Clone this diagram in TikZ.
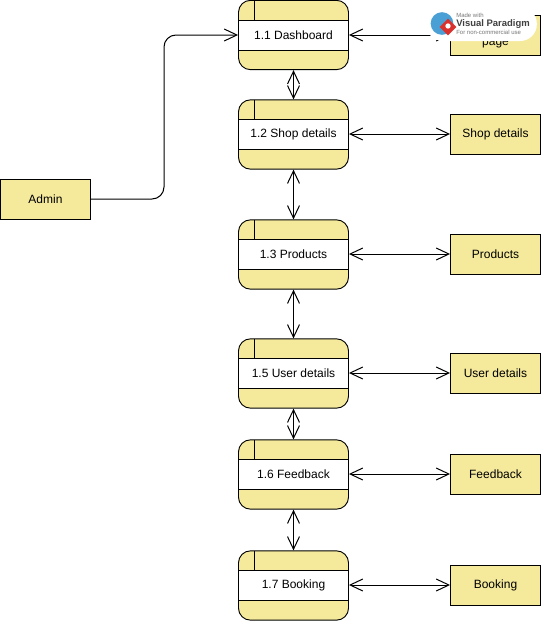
\documentclass[tikz,border=0pt]{standalone}
\usepackage{xcolor}
\usepackage{fontspec}
\setmainfont{Liberation Sans}
\usetikzlibrary{arrows.meta}
\definecolor{DFDYellow}{HTML}{F5E99B}
\definecolor{DFDLine}{HTML}{000000}
\definecolor{VPGrey}{HTML}{777777}
\definecolor{VPBlue}{HTML}{4A9FD4}
\definecolor{VPRed}{HTML}{D9322E}
\tikzset{
  procbox/.style={draw=DFDLine,fill=DFDYellow,line width=0.7pt,rounded corners=9pt,minimum width=82.5pt,minimum height=52pt,inner sep=0pt},
  procband/.style={draw=DFDLine,fill=white,line width=0.7pt,minimum width=82.5pt,minimum height=22.5pt,inner sep=0pt,font=\fontsize{9}{11}\selectfont},
  extbox/.style={draw=DFDLine,fill=DFDYellow,line width=0.7pt,minimum width=67.5pt,minimum height=30pt,inner sep=0pt,font=\fontsize{9}{11}\selectfont},
  flowline/.style={draw=DFDLine,line width=0.75pt,{Straight Barb[length=9.5pt,width=9pt]}-{Straight Barb[length=9.5pt,width=9pt]}},
  oneway/.style={draw=DFDLine,line width=0.75pt,rounded corners=9pt,-{Straight Barb[length=9.5pt,width=9pt]}},
}
\begin{document}
\begin{tikzpicture}[x=0.75pt,y=-0.75pt]
\path[use as bounding box] (0,0) rectangle (542,621);
% external entities
\node[extbox] (admin) at (45.5,199) {Admin};
\node[extbox,align=center] (dashpage) at (495.5,35) {\phantom{Page}\\page};
\node[extbox] (shopext) at (495.5,134) {Shop details};
\node[extbox] (prodext) at (495.5,254) {Products};
\node[extbox] (userext) at (495.5,373) {User details};
\node[extbox] (feedext) at (495.5,474) {Feedback};
\node[extbox] (bookext) at (495.5,585) {Booking};
% processes
\node[procbox] (dash) at (293.5,35) {};
\node[procband] (dashband) at (293.5,35) {1.1 Dashboard};
\draw[line width=0.7pt] (254,0.5) -- (254,20);
\node[procbox] (shop) at (293.5,134.5) {};
\node[procband] (shopband) at (293.5,134) {1.2 Shop details};
\draw[line width=0.7pt] (254,99.5) -- (254,119);
\node[procbox] (prod) at (293.5,254.5) {};
\node[procband] (prodband) at (293.5,254) {1.3 Products};
\draw[line width=0.7pt] (254,220) -- (254,239);
\node[procbox] (user) at (293.5,373.5) {};
\node[procband] (userband) at (293.5,373) {1.5 User details};
\draw[line width=0.7pt] (254,339) -- (254,358);
\node[procbox] (feed) at (293.5,474.5) {};
\node[procband] (feedband) at (293.5,474) {1.6 Feedback};
\draw[line width=0.7pt] (254,440) -- (254,459);
\node[procbox] (book) at (293.5,585.5) {};
\node[procband] (bookband) at (293.5,585) {1.7 Booking};
\draw[line width=0.7pt] (254,551) -- (254,570);
% flows
\draw[oneway] (admin.east) -- (164,199) -- (164,35) -- (dash.west);
\draw[flowline] (dash.east) -- (dashpage.west);
\draw[flowline] (shop.east |- shopext.west) -- (shopext.west);
\draw[flowline] (prod.east |- prodext.west) -- (prodext.west);
\draw[flowline] (user.east |- userext.west) -- (userext.west);
\draw[flowline] (feed.east |- feedext.west) -- (feedext.west);
\draw[flowline] (book.east |- bookext.west) -- (bookext.west);
\draw[flowline] (dash.south) -- (shop.north);
\draw[flowline] (shop.south) -- (prod.north);
\draw[flowline] (prod.south) -- (user.north);
\draw[flowline] (user.south) -- (feed.north);
\draw[flowline] (feed.south) -- (book.north);
% badge
\node[fill=white,rounded corners=12.5pt,minimum width=83pt,minimum height=25.5pt,inner sep=0pt] (badge) at (481.5,24) {};
\fill[VPBlue] (442,23.5) circle (8.5pt);
\fill[VPRed,rotate around={45:(448,27)}] (442,21) rectangle (454,33);
\fill[white] (448,26) circle (2pt);
\node[anchor=west,inner sep=0pt,text=VPGrey,font=\fontsize{4.5}{5}\selectfont] (madewith) at (456,15.5) {Made with};
\node[anchor=west,inner sep=0pt,text=black!75,font=\fontsize{7.1}{9}\bfseries\selectfont] (vpname) at (456,24) {Visual Paradigm};
\node[anchor=west,inner sep=0pt,text=VPGrey,font=\fontsize{4.5}{5}\selectfont] (vpnote) at (456,32.5) {For non-commercial use};
\end{tikzpicture}
\end{document}
